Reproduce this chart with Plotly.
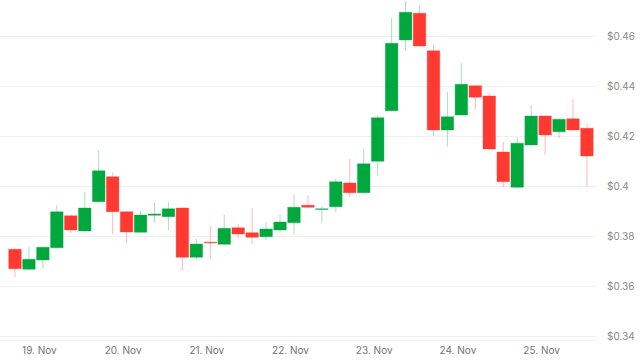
import pandas as pd
import plotly.graph_objects as go

start_time = "2024-11-18 17:00"
opens = [0.3747, 0.3667, 0.3704, 0.3753, 0.3881, 0.3820, 0.3937, 0.4037, 0.3897, 0.3815,
         0.3883, 0.3877, 0.3912, 0.3715, 0.3774, 0.3767, 0.3833, 0.3813, 0.3797, 0.3824,
         0.3853, 0.3923, 0.3906, 0.3917, 0.4012, 0.3973, 0.4099, 0.4301, 0.4584, 0.4691,
         0.4541, 0.4224, 0.4284, 0.4401, 0.4360, 0.4136, 0.3995, 0.4164, 0.4280, 0.4217,
         0.4269, 0.4231]
highs = [0.3750, 0.3755, 0.3757, 0.3923, 0.3884, 0.3977, 0.4144, 0.4053, 0.3899, 0.3899,
         0.3933, 0.3936, 0.3914, 0.3788, 0.3840, 0.3884, 0.3848, 0.3911, 0.3855, 0.3887,
         0.3967, 0.3964, 0.3920, 0.4031, 0.4108, 0.4147, 0.4284, 0.4671, 0.4740, 0.4723,
         0.4564, 0.4377, 0.4491, 0.4403, 0.4371, 0.4177, 0.4195, 0.4324, 0.4282, 0.4269,
         0.4347, 0.4247]
lows = [0.3635, 0.3665, 0.3671, 0.3751, 0.3811, 0.3818, 0.3935, 0.3808, 0.3771, 0.3813,
        0.3853, 0.3824, 0.3661, 0.3707, 0.3707, 0.3765, 0.3789, 0.3768, 0.3784, 0.3813,
        0.3808, 0.3914, 0.3851, 0.3895, 0.3955, 0.3971, 0.4041, 0.4299, 0.4540, 0.4558,
        0.4200, 0.4157, 0.4282, 0.4307, 0.4146, 0.3995, 0.3993, 0.4162, 0.4125, 0.4191,
        0.4222, 0.3997]
closes = [0.3669, 0.3707, 0.3755, 0.3897, 0.3824, 0.3912, 0.4061, 0.3897, 0.3816, 0.3884,
          0.3888, 0.3909, 0.3715, 0.3768, 0.3772, 0.3831, 0.3808, 0.3795, 0.3828, 0.3856,
          0.3915, 0.3915, 0.3908, 0.4017, 0.3973, 0.4089, 0.4273, 0.4571, 0.4695, 0.4560,
          0.4224, 0.4277, 0.4407, 0.4355, 0.4148, 0.4017, 0.4171, 0.4280, 0.4204, 0.4267,
          0.4224, 0.4120]

times = pd.date_range(start=start_time, periods=len(opens), freq="4h")

GREEN = "#00a83e"
RED = "#ff3a33"
GREEN_WICK = "rgba(0,168,62,0.35)"
RED_WICK = "rgba(255,58,51,0.35)"

step = pd.Timedelta(hours=4)
step_ms = step.total_seconds() * 1000

up = [c > o for o, c in zip(opens, closes)]

fig = go.Figure()

# wicks
for is_up, col in [(True, GREEN_WICK), (False, RED_WICK)]:
    wx, wy = [], []
    for t, h, l, u in zip(times, highs, lows, up):
        if u == is_up:
            wx += [t, t, None]
            wy += [l, h, None]
    fig.add_trace(go.Scatter(x=wx, y=wy, mode="lines",
                             line=dict(color=col, width=1),
                             hoverinfo="skip", showlegend=False))

# bodies
for is_up, col, edge in [(True, GREEN, GREEN_WICK), (False, RED, RED_WICK)]:
    bx, bb, bh = [], [], []
    for t, o, c, u in zip(times, opens, closes, up):
        if u == is_up:
            bx.append(t)
            bb.append(min(o, c))
            bh.append(max(abs(c - o), 0.0003))
    fig.add_trace(go.Bar(x=bx, y=bh, base=bb, width=step_ms * 0.9,
                         marker=dict(color=col, line=dict(color=edge, width=1)),
                         hoverinfo="skip", showlegend=False))

x0 = times[0] - step * 1.075
x1 = times[0] + step * 41.65

fig.update_layout(
    width=640, height=360,
    margin=dict(l=0, r=44, t=0, b=20),
    paper_bgcolor="white", plot_bgcolor="white",
    font=dict(family="Inter, Liberation Sans, sans-serif", size=10, color="#777777"),
    barmode="overlay",
    xaxis=dict(
        type="date", range=[x0, x1],
        showgrid=False, zeroline=False,
        tickformat="%d. %b", dtick=86400000, tick0="2024-11-19",
        showline=True, linecolor="#f2f2f2", linewidth=1,
        ticks="", tickfont=dict(size=10, color="#737373"),
        ticklabelstandoff=1,
    ),
    yaxis=dict(
        side="right", range=[0.3384, 0.4744],
        dtick=0.02, tick0=0.34, tickprefix="$",
        showgrid=True, gridcolor="#f0f0f0", gridwidth=1,
        zeroline=False, showline=False,
        tickfont=dict(size=10, color="#8a8a8a"),
        ticklabelstandoff=10,
    ),
)

fig.write_html("out.html", config={"displayModeBar": False},
               post_script="document.body.style.margin='0';document.body.style.padding='0';")
